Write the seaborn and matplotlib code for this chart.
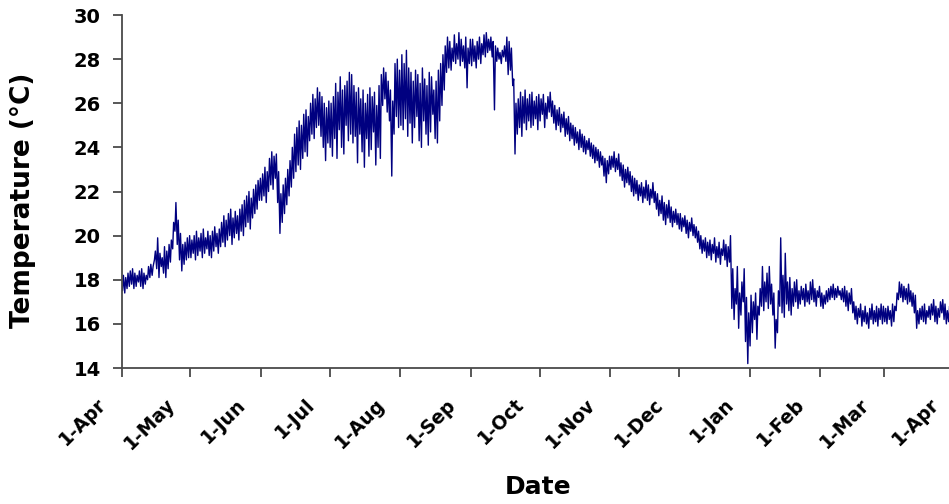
import numpy as np
import pandas as pd
import matplotlib
matplotlib.use("Agg")
import matplotlib.pyplot as plt
import matplotlib.transforms as mtransforms
import seaborn as sns

# Daily minimum / maximum water temperature (°C), one list per month,
# April of the first year through March of the following year.
apr_lo = [17.5, 17.4, 17.6, 17.7, 17.8, 17.6, 17.7, 17.9, 17.7, 17.6, 17.8, 18.0, 18.1, 18.2, 18.9,
          18.5, 18.1, 18.6, 18.3, 18.1, 18.5, 18.8, 19.4, 20.2, 19.6, 18.9, 18.4, 18.7, 18.9, 19.0]
apr_hi = [18.2, 18.1, 18.3, 18.4, 18.5, 18.3, 18.2, 18.4, 18.5, 18.3, 18.2, 18.6, 18.7, 18.6, 19.3,
          19.9, 19.2, 19.0, 19.5, 19.3, 19.6, 19.8, 20.6, 21.5, 20.7, 20.1, 19.6, 19.7, 19.9, 20.0]
may_lo = [19.0, 19.2, 18.9, 19.1, 19.3, 19.0, 19.2, 19.4, 19.1, 19.0, 19.3, 19.5, 19.2, 19.5, 19.7, 19.5,
          19.8, 20.0, 19.6, 19.9, 20.1, 19.8, 20.2, 20.0, 20.4, 20.6, 20.3, 20.8, 21.0, 21.2, 21.6]
may_hi = [19.8, 20.0, 20.2, 19.9, 20.1, 20.3, 19.9, 20.2, 20.0, 20.2, 20.4, 20.1, 20.3, 20.6, 20.9, 20.7,
          21.0, 21.2, 20.8, 21.1, 20.9, 21.2, 21.4, 21.6, 21.8, 22.0, 21.7, 22.1, 22.3, 22.5, 22.6]
jun_lo = [21.6, 21.8, 21.5, 22.0, 22.3, 22.1, 22.6, 21.5, 20.1, 20.6, 21.0, 21.4, 21.8, 22.2, 22.6,
          22.9, 23.2, 23.0, 23.5, 23.8, 23.6, 24.3, 24.6, 24.4, 24.9, 25.0, 24.5, 24.0, 23.4, 24.2]
jun_hi = [22.8, 23.1, 22.9, 23.5, 23.8, 23.6, 23.7, 22.9, 21.9, 22.3, 22.6, 23.0, 23.4, 24.0, 24.6,
          24.9, 25.2, 25.0, 25.5, 25.7, 25.4, 26.0, 26.4, 26.2, 26.7, 26.5, 26.3, 26.0, 25.8, 26.1]
jul_lo = [24.0, 23.6, 24.4, 23.5, 24.8, 24.0, 23.7, 25.0, 24.3, 24.6, 24.2, 24.5, 23.3, 24.6, 23.8, 23.1,
          24.4, 23.6, 23.9, 24.7, 23.2, 24.0, 23.5, 25.9, 26.2, 25.6, 25.2, 22.7, 24.6, 25.4, 24.9]
jul_hi = [26.0, 26.3, 26.9, 26.5, 27.2, 26.6, 26.8, 27.0, 27.4, 27.3, 26.8, 26.5, 26.7, 26.2, 26.6, 26.0,
          26.4, 26.7, 26.3, 26.5, 25.9, 26.8, 27.3, 27.6, 27.4, 27.0, 26.6, 26.1, 27.8, 28.0, 27.5]
aug_lo = [25.0, 24.8, 25.3, 24.5, 25.1, 24.2, 24.9, 25.4, 24.3, 24.0, 25.2, 24.6, 24.1, 24.7, 25.5, 24.4,
          24.2, 25.2, 25.9, 26.6, 27.4, 27.6, 27.5, 27.9, 27.8, 28.0, 27.7, 27.9, 27.6, 26.7, 27.8]
aug_hi = [28.2, 27.8, 28.4, 27.6, 27.4, 27.0, 27.5, 27.3, 26.9, 27.6, 27.1, 26.8, 27.4, 27.2, 26.6, 27.0,
          27.5, 27.8, 28.2, 28.6, 29.0, 28.8, 28.5, 29.1, 28.7, 29.2, 28.9, 28.6, 29.0, 28.5, 28.9]
sep_lo = [27.7, 27.9, 27.6, 28.0, 27.8, 28.2, 28.1, 28.3, 28.4, 28.1, 25.7, 27.9, 28.0, 27.8, 28.1,
          27.9, 27.3, 27.5, 26.8, 23.7, 24.6, 24.9, 24.5, 25.1, 24.8, 25.2, 24.9, 25.0, 25.3, 24.8]
sep_hi = [28.9, 28.6, 28.8, 29.0, 28.7, 29.1, 29.2, 28.9, 29.0, 28.8, 28.6, 28.5, 28.3, 28.4, 28.6,
          29.0, 28.8, 28.5, 27.1, 26.0, 26.2, 26.5, 26.3, 26.6, 26.2, 26.4, 26.5, 26.1, 26.3, 26.4]
oct_lo = [25.2, 25.5, 24.9, 25.3, 25.6, 25.4, 25.1, 24.8, 25.0, 24.7, 24.9, 24.5, 24.6, 24.3, 24.4, 24.1,
          24.2, 23.9, 24.0, 23.8, 23.7, 23.9, 23.6, 23.5, 23.3, 23.4, 23.1, 23.2, 22.7, 22.4, 22.8]
oct_hi = [26.2, 26.4, 26.0, 26.3, 26.5, 26.1, 25.9, 25.7, 25.8, 25.5, 25.6, 25.3, 25.4, 25.1, 25.0, 24.9,
          24.7, 24.8, 24.6, 24.5, 24.3, 24.4, 24.2, 24.1, 24.0, 23.9, 23.8, 23.6, 23.5, 23.4, 23.6]
nov_lo = [23.0, 23.1, 22.9, 23.0, 22.7, 22.5, 22.2, 22.4, 22.3, 22.0, 21.8, 21.9, 21.6, 21.8, 21.5,
          21.7, 21.6, 21.4, 21.7, 21.5, 21.2, 20.9, 21.0, 20.7, 20.5, 20.8, 20.6, 20.4, 20.6, 20.5]
nov_hi = [23.6, 23.8, 23.5, 23.7, 23.3, 23.2, 23.0, 23.1, 22.9, 22.7, 22.6, 22.5, 22.3, 22.4, 22.2,
          22.5, 22.3, 22.1, 22.4, 22.0, 21.9, 21.6, 21.8, 21.5, 21.4, 21.6, 21.3, 21.1, 21.2, 21.0]
dec_lo = [20.3, 20.2, 20.4, 20.1, 19.9, 20.2, 20.0, 19.9, 19.7, 19.4, 19.2, 19.3, 19.0, 19.1, 18.9, 19.2,
          18.8, 19.0, 18.7, 19.1, 18.9, 18.6, 18.8, 16.7, 16.2, 16.9, 15.8, 16.4, 17.0, 15.2, 14.2]
dec_hi = [21.0, 20.8, 20.9, 20.7, 20.6, 20.8, 20.5, 20.4, 20.2, 20.0, 19.8, 19.9, 19.7, 19.8, 19.6, 19.9,
          19.5, 19.7, 19.4, 19.8, 19.6, 19.5, 20.0, 18.5, 17.6, 18.6, 17.4, 17.9, 18.5, 17.2, 16.5]
jan_lo = [15.0, 15.6, 16.2, 15.3, 16.4, 16.8, 16.6, 17.0, 16.7, 16.9, 16.4, 14.9, 15.6, 16.8, 16.5, 16.3,
          16.9, 16.6, 16.4, 16.8, 17.0, 16.7, 16.9, 17.1, 16.8, 17.0, 16.9, 17.1, 17.0, 16.8, 17.2]
jan_hi = [17.3, 17.0, 17.4, 16.8, 17.6, 18.6, 17.9, 18.3, 18.6, 17.8, 17.4, 16.2, 17.5, 19.9, 18.2, 19.2,
          17.9, 18.1, 17.6, 17.9, 18.0, 17.5, 17.7, 17.6, 17.8, 17.5, 17.9, 18.0, 17.6, 17.5, 17.7]
feb_lo = [16.8, 16.7, 16.9, 17.0, 17.1, 17.2, 17.1, 17.2, 17.3, 17.1, 17.0, 16.8, 16.6, 16.9,
          16.5, 16.2, 16.0, 16.3, 15.9, 16.1, 16.0, 15.8, 16.2, 16.0, 16.1, 15.9, 16.2, 16.0]
feb_hi = [17.4, 17.3, 17.5, 17.6, 17.7, 17.8, 17.6, 17.7, 17.5, 17.6, 17.7, 17.5, 17.4, 17.6,
          17.0, 16.8, 16.7, 16.9, 16.6, 16.8, 16.5, 16.7, 16.9, 16.6, 16.8, 16.7, 16.9, 16.8]
mar_lo = [16.1, 16.0, 16.2, 15.9, 16.1, 16.6, 17.1, 17.2, 17.0, 17.1, 16.9, 17.0, 16.8, 16.5, 15.8, 16.0,
          16.2, 16.1, 16.0, 16.3, 16.2, 16.4, 16.1, 16.0, 16.3, 16.5, 16.2, 16.0, 16.1, 16.3, 16.2]
mar_hi = [16.7, 16.8, 16.6, 16.9, 16.8, 17.4, 17.9, 17.8, 17.7, 17.6, 17.8, 17.5, 17.4, 17.3, 16.6, 16.7,
          16.8, 16.9, 16.6, 16.8, 16.9, 17.1, 16.8, 16.7, 17.0, 17.1, 16.9, 16.6, 16.8, 16.7, 16.8]

tick_labels = ["1-Apr", "1-May", "1-Jun", "1-Jul", "1-Aug", "1-Sep", "1-Oct",
               "1-Nov", "1-Dec", "1-Jan", "1-Feb", "1-Mar", "1-Apr"]
y_ticks = [14, 16, 18, 20, 22, 24, 26, 28, 30]

daily_lo = sum([apr_lo, may_lo, jun_lo, jul_lo, aug_lo, sep_lo,
                oct_lo, nov_lo, dec_lo, jan_lo, feb_lo, mar_lo], [])
daily_hi = sum([apr_hi, may_hi, jun_hi, jul_hi, aug_hi, sep_hi,
                oct_hi, nov_hi, dec_hi, jan_hi, feb_hi, mar_hi], [])

days = pd.date_range("2001-04-01", periods=len(daily_lo), freq="D")
# Each day: early-morning minimum, afternoon maximum
times = np.concatenate([days + pd.Timedelta(hours=5), days + pd.Timedelta(hours=15)])
temps = np.concatenate([daily_lo, daily_hi])
df = pd.DataFrame({"time": times, "temp": temps}).sort_values("time")

sns.set_theme(style="white")
plt.rcParams["font.family"] = ["DejaVu Sans"]
plt.rcParams["font.weight"] = "bold"

fig = plt.figure(figsize=(9.49, 5.04), dpi=100)
ax = fig.add_axes([122 / 949, 136 / 504, 833 / 949, 353 / 504])

sns.lineplot(data=df, x="time", y="temp", ax=ax, color="#000080",
             linewidth=1.0, estimator=None, sort=True)

for side in ["top", "right"]:
    ax.spines[side].set_visible(False)
for side in ["left", "bottom"]:
    ax.spines[side].set_color("#4a4a4a")
    ax.spines[side].set_linewidth(1.3)
ax.tick_params(axis="both", direction="out", length=6.3, width=1.3,
               color="#4a4a4a", labelcolor="black")
ax.tick_params(axis="y", pad=9)
ax.tick_params(axis="x", pad=13)
ax.xaxis.set_ticks_position("bottom")
ax.yaxis.set_ticks_position("left")

ax.set_ylim(14, 30)
ax.set_yticks(y_ticks)
ax.set_yticklabels([str(v) for v in y_ticks], fontsize=14, fontweight="bold")

tick_dates = pd.date_range("2001-04-01", periods=13, freq="MS")
ax.set_xlim(tick_dates[0], tick_dates[-1])
ax.set_xticks(tick_dates)
ax.set_xticklabels(tick_labels, fontsize=13.5, fontweight="bold",
                   rotation=45, ha="right", va="top", rotation_mode="anchor")

# Rotated date labels sit a little to the left of their tick marks
shift = mtransforms.ScaledTranslation(-25 / 100, 0, fig.dpi_scale_trans)
for tick in ax.xaxis.get_major_ticks():
    tick.label1.set_transform(tick.label1.get_transform() + shift)

ax.set_xlabel("Date", fontsize=18, fontweight="bold", color="black")
ax.xaxis.set_label_coords(0.5, (368 - 487) / 353)
ax.xaxis.label.set_va("center")
ax.set_ylabel("Temperature (°C)", fontsize=19, fontweight="bold", color="black")
ax.yaxis.set_label_coords((23 - 122) / 833, (368 - 200) / 353)
ax.yaxis.label.set_va("center")

fig.savefig("out.png", dpi=100, facecolor="white")
